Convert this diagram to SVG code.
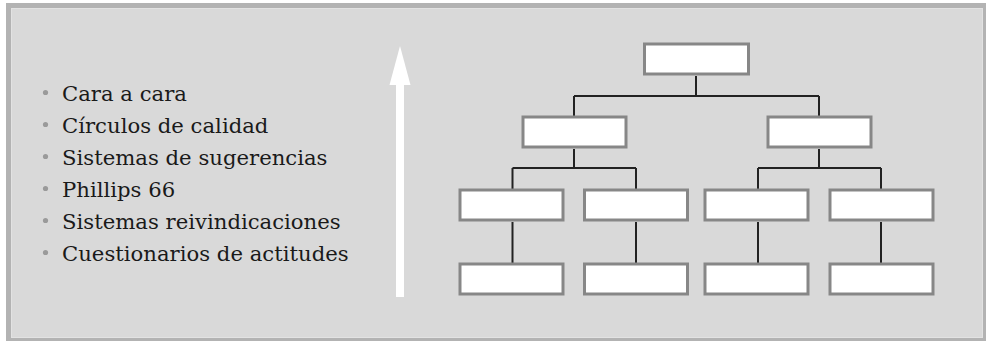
<svg xmlns="http://www.w3.org/2000/svg" width="986" height="341" viewBox="0 0 986 341">
<style>
.box{fill:#ffffff;stroke:#878787;stroke-width:3}
.con{fill:none;stroke:#222222;stroke-width:2}
.lbl{font-family:"DejaVu Serif","Liberation Serif",serif;font-size:21.2px;fill:#1a1a1a}
.bul{fill:#9a9a9a}
</style>
<rect x="0" y="0" width="986" height="341" fill="#ffffff"/>
<rect x="6" y="3" width="980" height="338" fill="#b3b3b3"/>
<rect x="11" y="8" width="972" height="330" fill="#d9d9d9"/>
<rect x="11.5" y="8.5" width="971" height="329" fill="none" stroke="#e2e2e2" stroke-width="1"/>
<g id="list">
<circle class="bul" cx="45.5" cy="92.5" r="2.6"/>
<circle class="bul" cx="45.5" cy="124.5" r="2.6"/>
<circle class="bul" cx="45.5" cy="156.5" r="2.6"/>
<circle class="bul" cx="45.5" cy="188.5" r="2.6"/>
<circle class="bul" cx="45.5" cy="220.5" r="2.6"/>
<circle class="bul" cx="45.5" cy="252.5" r="2.6"/>
<text class="lbl" x="62" y="100.5">Cara a cara</text>
<text class="lbl" x="62" y="132.5">Círculos de calidad</text>
<text class="lbl" x="62" y="164.5">Sistemas de sugerencias</text>
<text class="lbl" x="62" y="196.5">Phillips 66</text>
<text class="lbl" x="62" y="228.5">Sistemas reivindicaciones</text>
<text class="lbl" x="62" y="260.5">Cuestionarios de actitudes</text>
</g>
<g id="arrow">
<rect x="396" y="80" width="8" height="217" fill="#ffffff"/>
<polygon points="400,46 410.5,85 389.5,85" fill="#ffffff"/>
</g>
<g id="connectors">
<path class="con" d="M696,76 V96 M574,96 H819 M574,96 V116 M819,96 V116"/>
<path class="con" d="M574,149 V168 M512.5,168 H636 M512.5,168 V189 M636,168 V189"/>
<path class="con" d="M819,149 V168 M758,168 H881 M758,168 V189 M881,168 V189"/>
<path class="con" d="M512.5,222 V263 M636,222 V263 M758,222 V263 M881,222 V263"/>
</g>
<g id="n-top"><rect class="box" x="644.5" y="44" width="104" height="30"/></g>
<g id="n-mid-l"><rect class="box" x="523" y="117" width="103" height="30"/></g>
<g id="n-mid-r"><rect class="box" x="768" y="117" width="103" height="30"/></g>
<g id="n-r3-1"><rect class="box" x="460" y="190" width="103" height="30"/></g>
<g id="n-r3-2"><rect class="box" x="584.5" y="190" width="103" height="30"/></g>
<g id="n-r3-3"><rect class="box" x="705" y="190" width="103" height="30"/></g>
<g id="n-r3-4"><rect class="box" x="830" y="190" width="103" height="30"/></g>
<g id="n-r4-1"><rect class="box" x="460" y="264" width="103" height="30"/></g>
<g id="n-r4-2"><rect class="box" x="584.5" y="264" width="103" height="30"/></g>
<g id="n-r4-3"><rect class="box" x="705" y="264" width="103" height="30"/></g>
<g id="n-r4-4"><rect class="box" x="830" y="264" width="103" height="30"/></g>
</svg>
